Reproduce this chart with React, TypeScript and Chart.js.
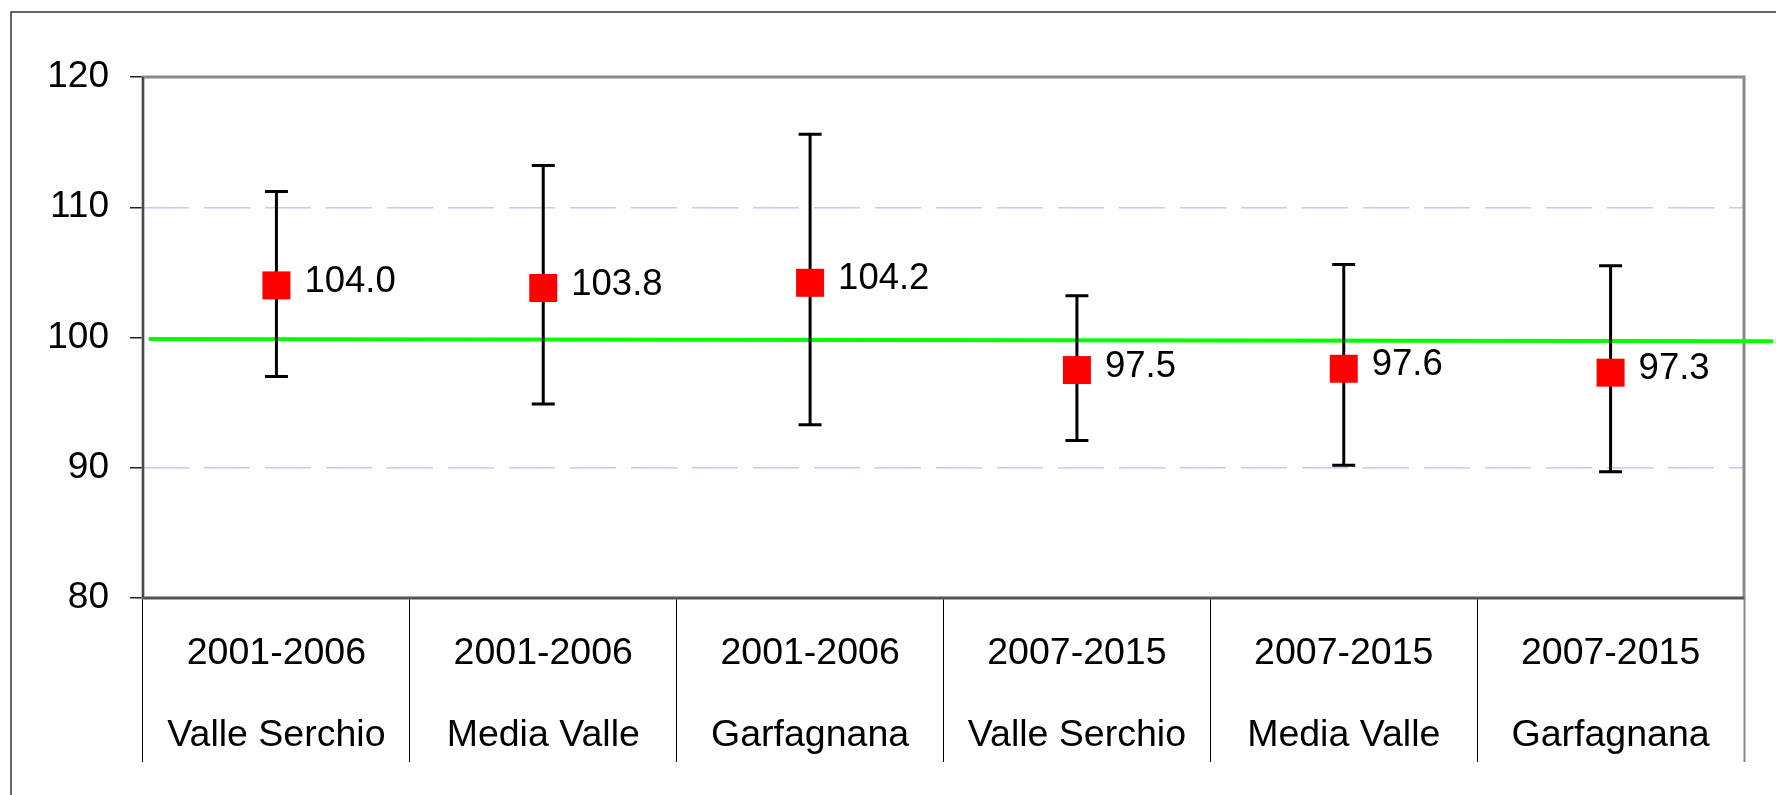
import React, { useEffect, useRef } from "react";
import { Chart, registerables } from "chart.js";

Chart.register(...registerables);

// ---- data ----
const periods = ["2001-2006", "2001-2006", "2001-2006", "2007-2015", "2007-2015", "2007-2015"];
const areas = ["Valle Serchio", "Media Valle", "Garfagnana", "Valle Serchio", "Media Valle", "Garfagnana"];
const values = [104.0, 103.8, 104.2, 97.5, 97.6, 97.3];
const lowerCI = [97.0, 94.9, 93.3, 92.1, 90.2, 89.7];
const upperCI = [111.2, 113.2, 115.6, 103.2, 105.6, 105.5];
const yTicks = [80, 90, 100, 110, 120];
const refStart = 99.88;
const refEnd = 99.72;

const FONT = "'Liberation Sans', Arial, sans-serif";

const decorPlugin = {
  id: "decor",
  beforeDraw(chart: any) {
    const ctx = chart.ctx;
    ctx.save();
    ctx.strokeStyle = "#333333";
    ctx.lineWidth = 1.5;
    ctx.beginPath();
    ctx.moveTo(11, 800);
    ctx.lineTo(11, 12);
    ctx.lineTo(1780, 12);
    ctx.stroke();
    ctx.restore();
  },
  beforeDatasetsDraw(chart: any) {
    const ctx = chart.ctx;
    const { left, right, top, bottom } = chart.chartArea;
    const xs = chart.scales.x;
    const ys = chart.scales.y;
    ctx.save();
    // plot frame
    ctx.strokeStyle = "#8a8a8a";
    ctx.lineWidth = 3;
    ctx.strokeRect(left, top, right - left, bottom - top);
    ctx.strokeStyle = "#333333";
    ctx.lineWidth = 1.5;
    ctx.beginPath();
    ctx.moveTo(left, top);
    ctx.lineTo(left, bottom);
    ctx.stroke();
    ctx.strokeStyle = "#555555";
    ctx.lineWidth = 2.5;
    ctx.beginPath();
    ctx.moveTo(left, bottom);
    ctx.lineTo(right, bottom);
    ctx.stroke();
    // reference line
    ctx.strokeStyle = "#00ff00";
    ctx.lineWidth = 4;
    ctx.beginPath();
    ctx.moveTo(left + 6, ys.getPixelForValue(refStart));
    ctx.lineTo(right + 29, ys.getPixelForValue(refEnd));
    ctx.stroke();
    // error bars
    ctx.strokeStyle = "#000000";
    ctx.lineWidth = 3;
    for (let i = 0; i < values.length; i++) {
      const x = xs.getPixelForValue(i);
      const yl = ys.getPixelForValue(lowerCI[i]);
      const yh = ys.getPixelForValue(upperCI[i]);
      ctx.beginPath();
      ctx.moveTo(x, yl);
      ctx.lineTo(x, yh);
      ctx.moveTo(x - 11.5, yh);
      ctx.lineTo(x + 11.5, yh);
      ctx.moveTo(x - 11.5, yl);
      ctx.lineTo(x + 11.5, yl);
      ctx.stroke();
    }
    ctx.restore();
  },
  afterDatasetsDraw(chart: any) {
    const ctx = chart.ctx;
    const xs = chart.scales.x;
    const ys = chart.scales.y;
    ctx.save();
    ctx.font = `36.5px ${FONT}`;
    ctx.fillStyle = "#000000";
    ctx.textAlign = "left";
    ctx.textBaseline = "middle";
    for (let i = 0; i < values.length; i++) {
      const x = xs.getPixelForValue(i);
      const y = ys.getPixelForValue(values[i]);
      ctx.fillText(values[i].toFixed(1), x + 28, y - 3.5);
    }
    ctx.restore();
  },
};

export default function App() {
  const canvasRef = useRef<HTMLCanvasElement | null>(null);

  useEffect(() => {
    const canvas = canvasRef.current;
    if (!canvas) return;
    const labels = periods.map((p, i) => [p, areas[i]]);
    const chart = new Chart(canvas, {
      type: "line",
      data: {
        labels,
        datasets: [
          {
            data: values,
            showLine: false,
            pointStyle: "rect",
            pointRadius: 19.8,
            pointHoverRadius: 19.8,
            pointBackgroundColor: "#ff0000",
            pointBorderColor: "#ff0000",
            pointBorderWidth: 0,
            clip: false,
          } as any,
        ],
      },
      options: {
        animation: false,
        responsive: false,
        devicePixelRatio: 1,
        events: [],
        layout: { padding: { left: 0, top: 77, right: 32, bottom: 33 } },
        plugins: {
          legend: { display: false },
          tooltip: { enabled: false },
          title: { display: false },
        },
        scales: {
          x: {
            type: "category",
            offset: true,
            border: { display: false },
            grid: {
              offset: true,
              drawOnChartArea: false,
              drawTicks: true,
              tickLength: 164,
              tickWidth: (c: any) => (c.index === undefined ? 2 : 1),
              tickColor: (c: any) => (c.index === undefined ? "#8a8a8a" : "#000000"),
            },
            ticks: {
              autoSkip: false,
              maxRotation: 0,
              minRotation: 0,
              padding: -149,
              color: "#000000",
              font: { family: FONT, size: 37.5, lineHeight: 81.5 / 37.5 },
            },
            afterFit: (s: any) => {
              s.height = 164;
            },
          },
          y: {
            type: "linear",
            min: 80,
            max: 120,
            border: { display: false, dash: [46, 15] },
            grid: {
              drawTicks: true,
              tickLength: 13,
              tickWidth: 1.5,
              tickColor: "#222222",
              lineWidth: 1.5,
              color: (c: any) =>
                c.tick && (c.tick.value === 90 || c.tick.value === 110) ? "#c8c8ff" : "rgba(0,0,0,0)",
            },
            ticks: {
              padding: 21,
              color: "#000000",
              font: { family: FONT, size: 37 },
            },
            afterBuildTicks: (s: any) => {
              s.ticks = yTicks.map((v) => ({ value: v }));
            },
            afterFit: (s: any) => {
              s.width = 143;
            },
          },
        },
      },
      plugins: [decorPlugin],
    });
    return () => chart.destroy();
  }, []);

  return (
    <div style={{ position: "fixed", left: 0, top: 0, width: 1776, height: 795, background: "#ffffff" }}>
      <canvas ref={canvasRef} width={1776} height={795} style={{ display: "block" }} />
    </div>
  );
}
